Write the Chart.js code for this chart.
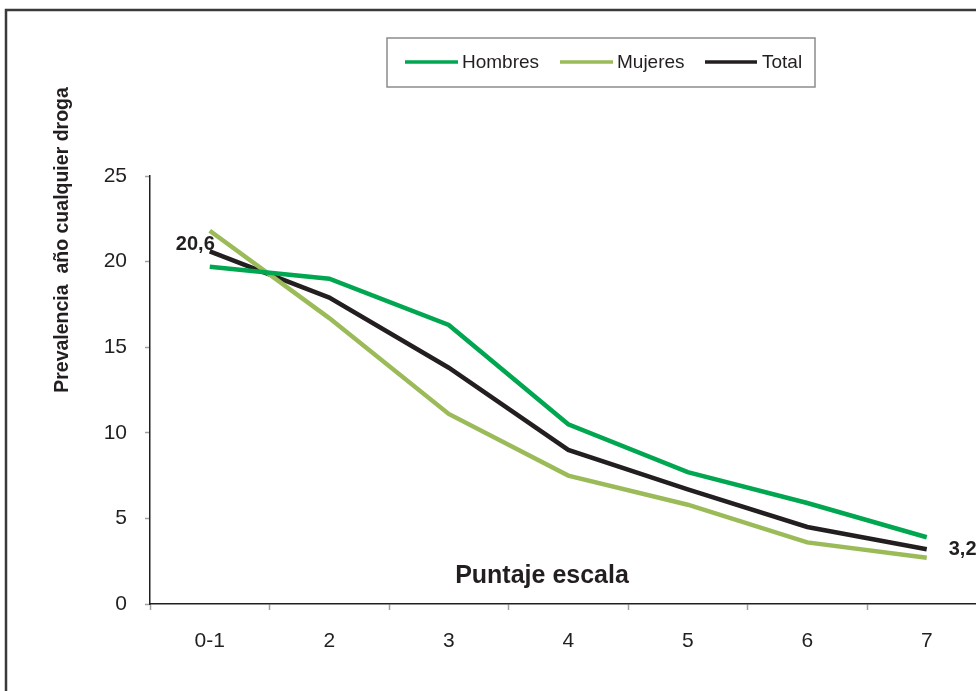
<!DOCTYPE html>
<html>
<head>
<meta charset="utf-8">
<script src="https://cdn.jsdelivr.net/npm/chart.js@4.4.1/dist/chart.umd.min.js"></script>
<style>
  html, body { margin: 0; padding: 0; background: #fff; }
  #wrap { width: 976px; height: 691px; overflow: hidden; position: relative; }
  canvas { display: block; }
</style>
</head>
<body>
<div id="wrap"><canvas id="c" width="1000" height="691"></canvas></div>
<script>
const categories = ['0-1', '2', '3', '4', '5', '6', '7'];
const hombres = [19.7, 19.0, 16.3, 10.5, 7.7, 5.9, 3.9];
const mujeres = [21.8, 16.7, 11.1, 7.5, 5.8, 3.6, 2.7];
const total = [20.6, 17.9, 13.8, 9.0, 6.7, 4.5, 3.2];
const seriesNames = ['Hombres', 'Mujeres', 'Total'];
const seriesColors = ['#00A650', '#9BBB59', '#231F20'];
const yTitle = 'Prevalencia  año cualquier droga';
const xTitle = 'Puntaje escala';
const firstLabel = '20,6';
const lastLabel = '3,2';

const FONT = '"Liberation Sans", Arial, sans-serif';

const decor = {
  id: 'decor',
  afterDraw(chart) {
    const ctx = chart.ctx;
    ctx.save();
    // outer frame
    ctx.strokeStyle = '#3a3a3a';
    ctx.lineWidth = 2.5;
    ctx.strokeRect(6, 10, 1100, 800);

    // y title
    ctx.save();
    ctx.translate(63, 240);
    ctx.rotate(-Math.PI / 2);
    ctx.fillStyle = '#231F20';
    ctx.font = 'bold 19.5px ' + FONT;
    ctx.textAlign = 'center';
    ctx.textBaseline = 'middle';
    ctx.fillText(yTitle, 0, 0);
    ctx.restore();

    // x title (inside plot)
    ctx.fillStyle = '#231F20';
    ctx.font = 'bold 25px ' + FONT;
    ctx.textAlign = 'center';
    ctx.textBaseline = 'alphabetic';
    ctx.fillText(xTitle, 542, 583);

    // data labels on Total series
    const meta = chart.getDatasetMeta(2);
    const p0 = meta.data[0], pN = meta.data[meta.data.length - 1];
    ctx.font = 'bold 20px ' + FONT;
    ctx.textBaseline = 'middle';
    ctx.textAlign = 'right';
    ctx.fillText(firstLabel, p0.x + 5, p0.y - 7);
    ctx.textAlign = 'left';
    ctx.fillText(lastLabel, pN.x + 22, pN.y);

    // legend box
    ctx.fillStyle = '#fff';
    ctx.fillRect(387, 38, 428, 49);
    ctx.strokeStyle = '#8c8c8c';
    ctx.lineWidth = 1.5;
    ctx.strokeRect(387, 38, 428, 49);
    const items = [
      {x1: 405, x2: 458, tx: 462},
      {x1: 560, x2: 613, tx: 617},
      {x1: 705, x2: 757, tx: 762}
    ];
    ctx.font = '19px ' + FONT;
    ctx.textAlign = 'left';
    ctx.textBaseline = 'middle';
    items.forEach((it, i) => {
      ctx.strokeStyle = seriesColors[i];
      ctx.lineWidth = 3.5;
      ctx.beginPath();
      ctx.moveTo(it.x1, 62);
      ctx.lineTo(it.x2, 62);
      ctx.stroke();
      ctx.fillStyle = '#231F20';
      ctx.fillText(seriesNames[i], it.tx, 62.5);
    });
    ctx.restore();
  }
};

const mk = (name, data, color) => ({
  label: name, data: data, borderColor: color, backgroundColor: color,
  borderWidth: 4.5, pointRadius: 0, pointHoverRadius: 0, tension: 0,
  borderJoinStyle: 'miter', borderCapStyle: 'butt'
});

new Chart(document.getElementById('c'), {
  type: 'line',
  data: {
    labels: categories,
    datasets: [
      mk(seriesNames[0], hombres, seriesColors[0]),
      mk(seriesNames[1], mujeres, seriesColors[1]),
      mk(seriesNames[2], total, seriesColors[2])
    ]
  },
  options: {
    responsive: false,
    animation: false,
    events: [],
    layout: { padding: { left: 0, right: 13.5, top: 176, bottom: 0 } },
    plugins: { legend: { display: false }, tooltip: { enabled: false } },
    scales: {
      x: {
        offset: true,
        grid: { display: true, drawOnChartArea: false, drawTicks: true, tickLength: 6, tickColor: '#a0a0a0', tickWidth: 1.5, offset: true },
        border: { display: true, color: '#231F20', width: 1.5 },
        ticks: { color: '#231F20', font: { family: FONT, size: 21 }, padding: 19, maxRotation: 0 },
        afterFit(s) { s.height = 87; }
      },
      y: {
        min: 0, max: 25,
        grid: { display: true, drawOnChartArea: false, drawTicks: true, tickLength: 5, tickColor: '#a0a0a0', tickWidth: 1.5 },
        border: { display: true, color: '#231F20', width: 1.5 },
        ticks: { stepSize: 5, color: '#231F20', font: { family: FONT, size: 21 }, padding: 18 },
        afterFit(s) { s.width = 150; }
      }
    }
  },
  plugins: [decor]
});
</script>
</body>
</html>
